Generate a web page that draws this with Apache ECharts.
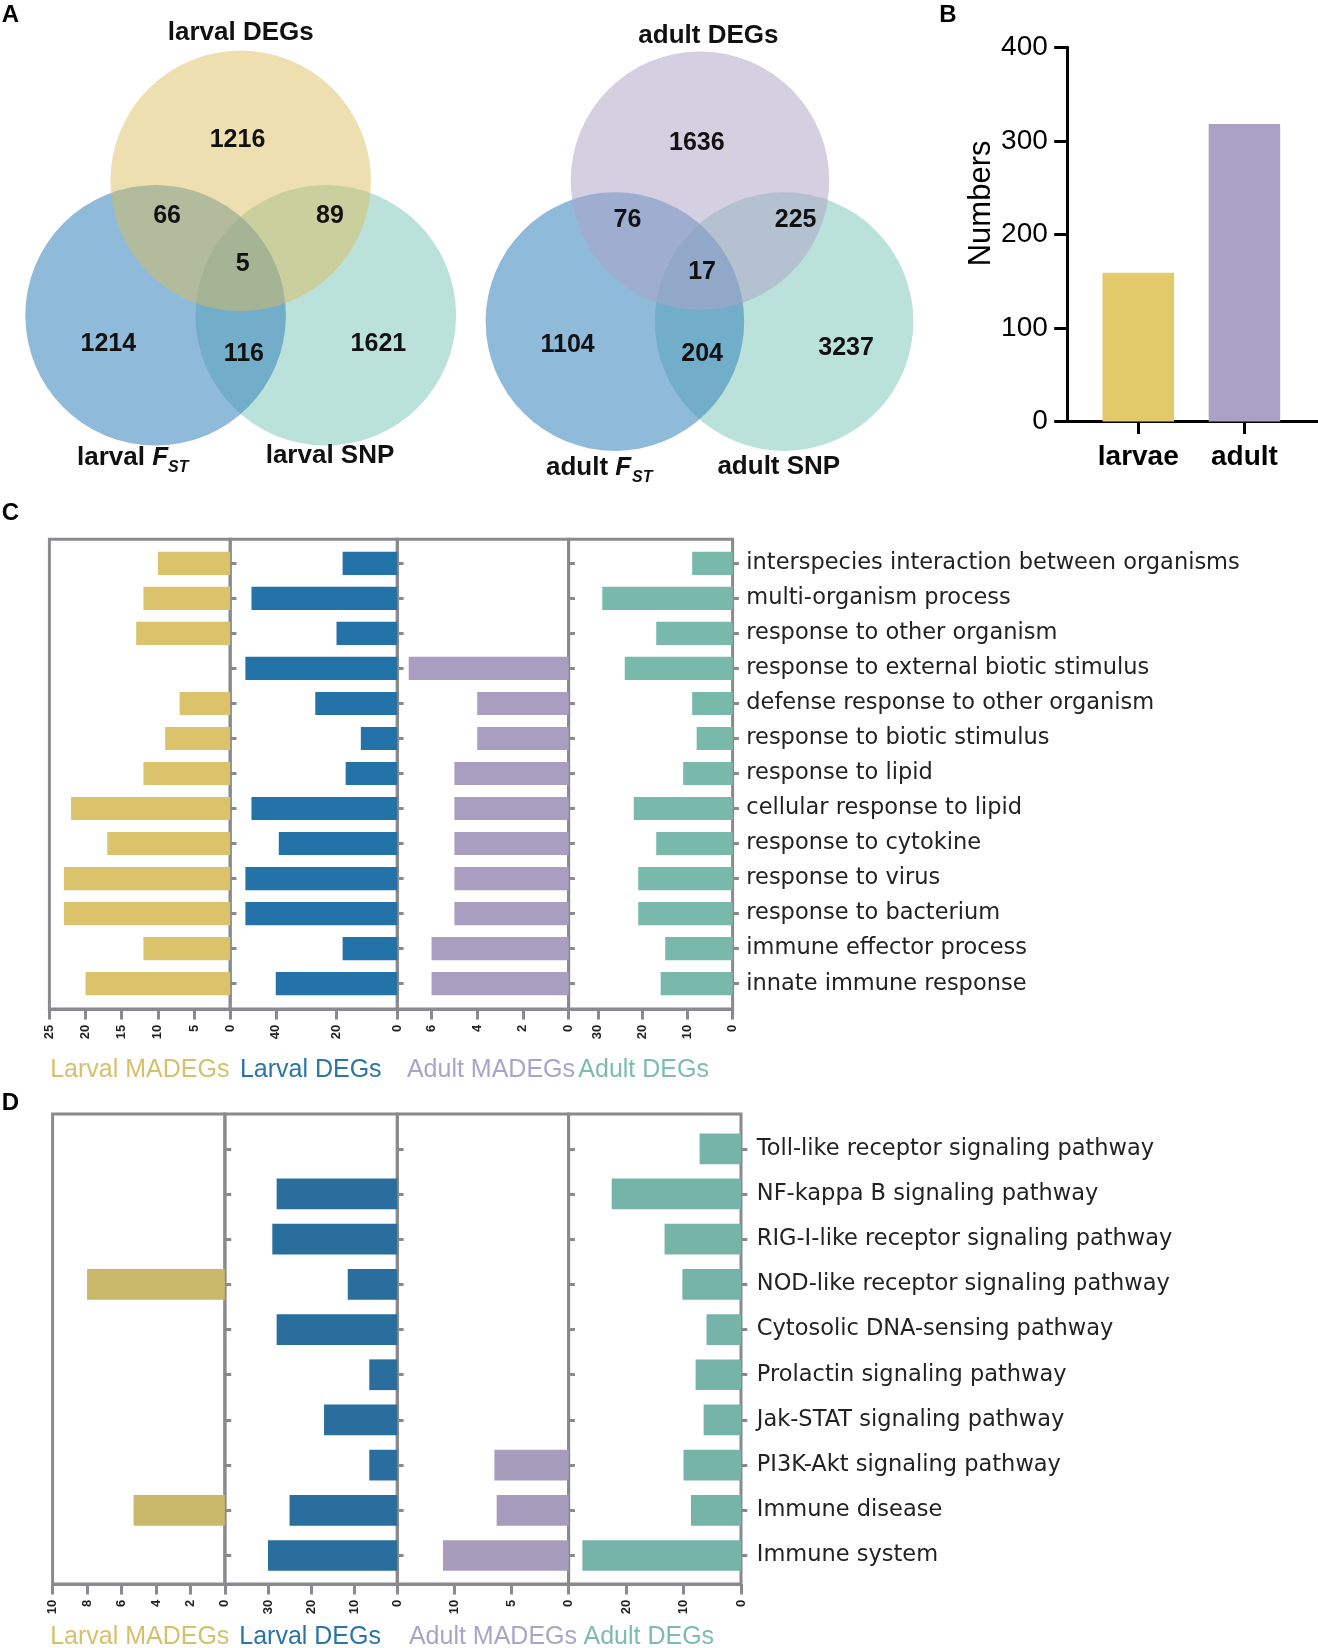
<!DOCTYPE html>
<html><head><meta charset="utf-8">
<script src="https://cdn.jsdelivr.net/npm/echarts@6/dist/echarts.min.js"></script>
<style>html,body{margin:0;padding:0;background:#fff}#c{width:1318px;height:1648px}</style>
</head><body><div id="c"></div>
<script>
// ---------------- DATA ----------------
const goTerms = ['interspecies interaction between organisms','multi-organism process','response to other organism','response to external biotic stimulus','defense response to other organism','response to biotic stimulus','response to lipid','cellular response to lipid','response to cytokine','response to virus','response to bacterium','immune effector process','innate immune response'];
const goLarvalMADEGs = [10,12,13,0,7,9,12,22,17,23,23,12,20];
const goLarvalDEGs   = [18,48,20,50,27,12,17,48,39,50,50,18,40];
const goAdultMADEGs  = [0,0,0,7,4,4,5,5,5,5,5,6,6];
const goAdultDEGs    = [9,29,17,24,9,8,11,22,17,21,21,15,16];

const keggTerms = ['Toll-like receptor signaling pathway','NF-kappa B signaling pathway','RIG-I-like receptor signaling pathway','NOD-like receptor signaling pathway','Cytosolic DNA-sensing pathway','Prolactin signaling pathway','Jak-STAT signaling pathway','PI3K-Akt signaling pathway','Immune disease','Immune system'];
const keggLarvalMADEGs = [0,0,0,8,0,0,0,0,5.3,0];
const keggLarvalDEGs   = [0,28,29,11.5,28,6.5,17,6.5,25,30];
const keggAdultMADEGs  = [0,0,0,0,0,0,0,6.5,6.3,11];
const keggAdultDEGs    = [7.2,22.5,13.3,10.2,6,7.9,6.5,10,8.7,27.6];

const groupNames = ['Larval MADEGs','Larval DEGs','Adult MADEGs','Adult DEGs'];

const stageCategories = ['larvae','adult'];
const stageNumbers = [159,318];

// Venn region counts: [DEG only, DEG∩FST, DEG∩SNP, all three, FST only, FST∩SNP, SNP only]
const larvalVennCounts = [1216,66,89,5,1214,116,1621];
const adultVennCounts  = [1636,76,225,17,1104,204,3237];

// ---------------- LAYOUT ----------------
const K = 1318/1254;
const P = v => Math.round(v*K*10)/10;
const AX = '#8a8a8e';
const FONT = 'Liberation Sans';

const grids = [], xAxes = [], yAxes = [], series = [];

// Panel B
grids.push({left:P(1032.5), top:P(45), width:P(202), height:P(356), outerBoundsMode:'none'});
xAxes.push({gridIndex:0, type:'category', data:stageCategories,
  axisLine:{show:true, lineStyle:{color:'#000', width:3}},
  axisTick:{show:true, alignWithLabel:true, length:P(12), lineStyle:{color:'#000', width:3}},
  axisLabel:{color:'#000', fontSize:28, fontWeight:'bold', fontFamily:FONT, margin:22}, splitLine:{show:false}});
yAxes.push({gridIndex:0, type:'value', min:0, max:400, interval:100, offset:P(17.5),
  axisLine:{show:true, lineStyle:{color:'#000', width:3}},
  axisTick:{show:true, length:P(12), lineStyle:{color:'#000', width:3}},
  axisLabel:{color:'#000', fontSize:28, fontFamily:FONT, margin:19}, splitLine:{show:false},
  name:'Numbers', nameLocation:'middle', nameRotate:90, nameGap:70,
  nameTextStyle:{color:'#000', fontSize:31, fontFamily:FONT, padding:[0,0,0,62]}});
series.push({type:'bar', xAxisIndex:0, yAxisIndex:0, data:stageNumbers, barWidth:P(68),
  itemStyle:{color:(p)=>['#E2C96A','#ABA1C5'][p.dataIndex]}});

function buildPanel(cols, cats, frame, dataBox, barW, nameGap, lblMargin) {
  cols.forEach((c, i) => {
    const left = P(c.x[0]), width = P(c.x[1]) - P(c.x[0]);
    const gf = grids.length;
    const sh = c.shift || 0;
    const pad = sh >= 0 ? [0,0,0,2*sh] : [0,-2*sh,0,0];
    grids.push({left, width, top:P(frame[0]), height:P(frame[1]), show:true,
      borderColor:AX, borderWidth:3, backgroundColor:'rgba(0,0,0,0)', outerBoundsMode:'none'});
    xAxes.push({gridIndex:gf, type:'value', inverse:true, min:0, max:c.max, interval:c.interval,
      axisLine:{show:true, lineStyle:{color:AX, width:3}},
      axisTick:{show:true, length:P(10), lineStyle:{color:AX, width:3}},
      axisLabel:{rotate:90, fontSize:13, fontWeight:'bold', color:'#222', fontFamily:FONT, margin:P(15),
        showMaxLabel:c.showMax, showMinLabel:true},
      splitLine:{show:false},
      name:c.name, nameLocation:'middle', nameGap:nameGap,
      nameTextStyle:{color:c.nameColor, fontSize:25, fontFamily:FONT, padding:pad}});
    yAxes.push({gridIndex:gf, type:'value', show:false, min:0, max:1, splitLine:{show:false}});
    const gd = grids.length;
    grids.push({left, width, top:P(dataBox[0]), height:P(dataBox[1]), outerBoundsMode:'none'});
    xAxes.push({gridIndex:gd, type:'value', inverse:true, min:0, max:c.max, show:false, splitLine:{show:false}});
    yAxes.push({gridIndex:gd, type:'category', data:cats, inverse:true, position:'right',
      axisLine:{show:false},
      axisTick:{show:true, alignWithLabel:true, length:P(6), lineStyle:{color:AX, width:3}},
      axisLabel:{show:i===3, margin:lblMargin, fontSize:22.5, fontFamily:'DejaVu Sans', color:'#222'},
      splitLine:{show:false}});
    series.push({type:'bar', xAxisIndex:xAxes.length-1, yAxisIndex:yAxes.length-1, data:c.data,
      barWidth:barW, itemStyle:{color:c.color}});
  });
}

const nameColors = ['#D6C06C','#2B74A6','#ACA3C8','#7DBBB0'];

buildPanel([
  {name:groupNames[0], data:goLarvalMADEGs, max:25,   interval:5,  showMax:true,  color:'#DBC36B', nameColor:nameColors[0], x:[47,219], shift:0},
  {name:groupNames[1], data:goLarvalDEGs,   max:55,   interval:20, showMax:false, color:'#2372A8', nameColor:nameColors[1], x:[219,378], shift:-3},
  {name:groupNames[2], data:goAdultMADEGs,  max:7.5,  interval:2,  showMax:false, color:'#A99DC0', nameColor:nameColors[2], x:[378,541], shift:8},
  {name:groupNames[3], data:goAdultDEGs,    max:36.5, interval:10, showMax:false, color:'#78B9AC', nameColor:nameColors[3], x:[541,697], shift:-7}
], goTerms, [513,447], [519.33,433.33], '66%', 49, P(13));

buildPanel([
  {name:groupNames[0], data:keggLarvalMADEGs, max:10, interval:2,  showMax:true,  color:'#C9B76A', nameColor:nameColors[0], x:[50,214], shift:1},
  {name:groupNames[1], data:keggLarvalDEGs,   max:40, interval:10, showMax:false, color:'#2A6E9E', nameColor:nameColors[1], x:[214,378], shift:-1},
  {name:groupNames[2], data:keggAdultMADEGs,  max:15, interval:5,  showMax:false, color:'#A89CBD', nameColor:nameColors[2], x:[378,541], shift:10},
  {name:groupNames[3], data:keggAdultDEGs,    max:30, interval:10, showMax:false, color:'#76B3A8', nameColor:nameColors[3], x:[541,705], shift:-6}
], keggTerms, [1060,447], [1071.5,430], '68%', 41, P(15));

// ---------------- GRAPHIC (Venn, letters) ----------------
const graphic = [];
function circle(cx, cy, r, fill){ graphic.push({type:'circle', silent:true, shape:{cx:P(cx), cy:P(cy), r:P(r)}, style:{fill}}); }
function txt(x, y, text, size, extra){ graphic.push({type:'text', silent:true, x:P(x), y:P(y),
  style:Object.assign({text:String(text), fontSize:size, fontWeight:'bold', fontFamily:FONT, fill:'#111', align:'center', verticalAlign:'middle'}, extra||{})}); }

// larval Venn
circle(310, 300, 124, 'rgba(85,183,163,0.40)');
circle(148, 300, 124, 'rgba(58,134,190,0.57)');
circle(229, 172, 124, 'rgba(220,188,90,0.48)');
// adult Venn
circle(746, 306, 123, 'rgba(85,183,163,0.40)');
circle(585, 306, 123, 'rgba(58,134,190,0.57)');
circle(666, 172, 123, 'rgba(174,164,198,0.53)');

const larvalVennPos = [[226,133],[159,206],[314,206],[231,251],[103,327],[232,337],[360,327]];
const adultVennPos  = [[663,136],[597,209],[757,209],[668,259],[540,328],[668,337],[805,331]];
larvalVennCounts.forEach((v,i)=>txt(larvalVennPos[i][0], larvalVennPos[i][1], v, 25));
adultVennCounts.forEach((v,i)=>txt(adultVennPos[i][0], adultVennPos[i][1], v, 25));

txt(229, 31, 'larval DEGs', 26);
txt(674, 34, 'adult DEGs', 26);
txt(314, 434, 'larval SNP', 26);
txt(741, 444, 'adult SNP', 26);
graphic.push({type:'text', silent:true, x:77, y:458, style:{text:'{a|larval }{b|F}', align:'left', verticalAlign:'middle',
  rich:{a:{fontSize:26, fontWeight:'bold', fontFamily:FONT, fill:'#111'}, b:{fontSize:26, fontWeight:'bold', fontStyle:'italic', fontFamily:FONT, fill:'#111'}}}});
graphic.push({type:'text', silent:true, x:168, y:468, style:{text:'ST', fontSize:16, fontWeight:'bold', fontStyle:'italic', fontFamily:FONT, fill:'#111', align:'left', verticalAlign:'middle'}});
graphic.push({type:'text', silent:true, x:546, y:468, style:{text:'{a|adult }{b|F}', align:'left', verticalAlign:'middle',
  rich:{a:{fontSize:26, fontWeight:'bold', fontFamily:FONT, fill:'#111'}, b:{fontSize:26, fontWeight:'bold', fontStyle:'italic', fontFamily:FONT, fill:'#111'}}}});
graphic.push({type:'text', silent:true, x:632, y:478, style:{text:'ST', fontSize:16, fontWeight:'bold', fontStyle:'italic', fontFamily:FONT, fill:'#111', align:'left', verticalAlign:'middle'}});

// panel letters
txt(10, 15, 'A', 24, {fill:'#000'});
txt(902, 15, 'B', 24, {fill:'#000'});
txt(10, 488, 'C', 24, {fill:'#000'});
txt(10, 1050, 'D', 24, {fill:'#000'});

// panel B baseline extensions
graphic.push({type:'line', silent:true, shape:{x1:P(1015), y1:P(401), x2:P(1033), y2:P(401)}, style:{stroke:'#000', lineWidth:3}});
graphic.push({type:'line', silent:true, shape:{x1:P(1234), y1:P(401), x2:1318, y2:P(401)}, style:{stroke:'#000', lineWidth:3}});

const chart = echarts.init(document.getElementById('c'), null, {renderer:'canvas'});
chart.setOption({
  animation:false,
  backgroundColor:'#fff',
  textStyle:{fontFamily:FONT},
  grid:grids, xAxis:xAxes, yAxis:yAxes, series:series, graphic:graphic
});
</script>
</body></html>
